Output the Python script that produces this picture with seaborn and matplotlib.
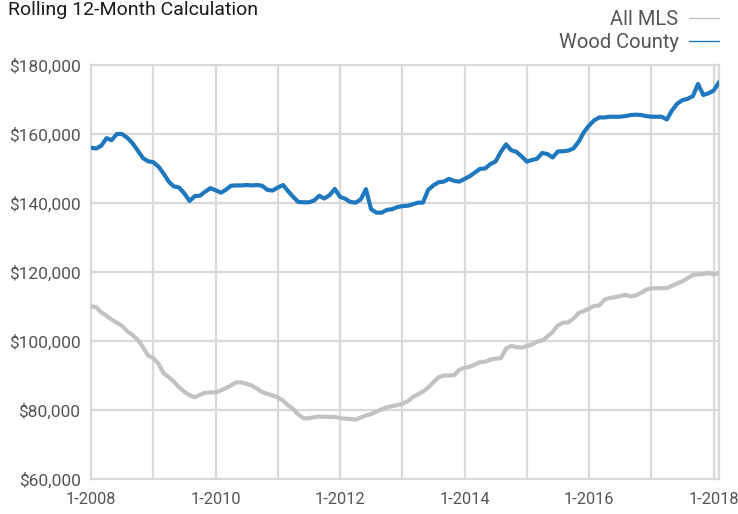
import pandas as pd
import matplotlib
matplotlib.use('Agg')
import matplotlib.pyplot as plt
import matplotlib.dates as mdates
import matplotlib.ticker as mticker
from matplotlib.lines import Line2D
import seaborn as sns

# monthly rolling 12-month values, in thousands of dollars (1-2008 .. 2-2018)
wood_county = [156.0, 155.8, 156.6, 158.8, 158.2, 160.0, 160.0, 158.9, 157.3, 155.2, 153.0, 152.1,
               151.8, 150.5, 148.6, 146.2, 144.8, 144.5, 142.8, 140.6, 142.0, 142.1, 143.3, 144.3,
               143.7, 143.0, 143.8, 145.0, 145.1, 145.1, 145.2, 145.1, 145.2, 145.0, 143.8, 143.6,
               144.5, 145.2, 143.5, 141.8, 140.3, 140.2, 140.2, 140.7, 142.1, 141.3, 142.3, 144.1,
               141.8, 141.2, 140.3, 140.1, 141.0, 144.0, 138.2, 137.2, 137.2, 138.0, 138.2, 138.8,
               139.1, 139.2, 139.6, 140.1, 140.1, 143.8, 145.1, 146.0, 146.2, 147.0, 146.4, 146.2,
               147.0, 147.8, 148.8, 149.9, 150.0, 151.3, 152.0, 154.8, 157.0, 155.3, 154.8, 153.5,
               152.0, 152.5, 152.8, 154.5, 154.2, 153.2, 154.9, 155.0, 155.2, 155.8, 157.8, 160.5,
               162.5, 164.0, 164.8, 164.8, 165.0, 165.0, 165.0, 165.2, 165.5, 165.6, 165.5, 165.2,
               165.0, 165.0, 165.0, 164.2, 166.8, 168.8, 169.8, 170.2, 171.0, 174.5, 171.3, 171.8,
               172.6, 175.0]
all_mls = [110.1, 109.8, 108.3, 107.3, 106.2, 105.3, 104.4, 102.8, 101.7, 100.3, 98.2, 95.8,
           95.0, 93.3, 90.7, 89.5, 88.2, 86.6, 85.3, 84.3, 83.7, 84.4, 85.0, 85.1,
           85.1, 85.7, 86.3, 87.1, 88.0, 88.0, 87.6, 87.1, 86.2, 85.2, 84.7, 84.2,
           83.7, 82.7, 81.4, 80.3, 78.7, 77.6, 77.6, 77.9, 78.1, 78.0, 78.0, 78.0,
           77.6, 77.5, 77.4, 77.2, 77.8, 78.4, 78.8, 79.5, 80.2, 80.8, 81.1, 81.4,
           81.8, 82.5, 83.7, 84.5, 85.3, 86.5, 88.0, 89.5, 90.0, 90.0, 90.1, 91.7,
           92.2, 92.6, 93.1, 93.9, 94.0, 94.6, 94.9, 95.0, 97.8, 98.6, 98.2, 98.1,
           98.5, 99.0, 99.8, 100.1, 101.3, 102.6, 104.5, 105.3, 105.4, 106.5, 108.1, 108.7,
           109.4, 110.2, 110.3, 112.0, 112.5, 112.7, 113.0, 113.4, 112.9, 113.2, 114.0, 114.9,
           115.3, 115.3, 115.3, 115.3, 116.0, 116.7, 117.3, 118.2, 119.2, 119.3, 119.4, 119.7,
           119.3, 119.7]
months = pd.date_range('2008-01-01', periods=len(wood_county), freq='MS')
series_names = ['All MLS', 'Wood County']
series_colors = ['#c2c2c2', '#1f78be']
y_ticks = [60000, 80000, 100000, 120000, 140000, 160000, 180000]

df = pd.concat([
    pd.DataFrame({'month': months, 'price': [v * 1000 for v in all_mls], 'series': 'All MLS'}),
    pd.DataFrame({'month': months, 'price': [v * 1000 for v in wood_county], 'series': 'Wood County'}),
])

sns.set_style('white')
plt.rcParams['font.family'] = ['Roboto', 'DejaVu Sans']

grid_c = '#d9d9d9'
fig = plt.figure(figsize=(7.38, 5.14), dpi=100)
ax = fig.add_axes([91 / 738, 1 - 479 / 514, (719 - 91) / 738, (479 - 65) / 514])

sns.lineplot(data=df, x='month', y='price', hue='series', hue_order=series_names,
             palette=series_colors, linewidth=3, legend=False, ax=ax, zorder=3)

ax.set_xlim(months[0], months[-1])
ax.set_ylim(60000, 180000)
ax.set_yticks(y_ticks)
ax.yaxis.set_major_formatter(mticker.FuncFormatter(lambda v, p: '${:,.0f}'.format(v)))
ax.xaxis.set_major_locator(mdates.YearLocator(1, month=1, day=1))
ax.xaxis.set_major_formatter(mticker.FuncFormatter(
    lambda v, p: '1-%d' % mdates.num2date(v).year if mdates.num2date(v).year % 2 == 0 else ''))
ax.grid(True, color=grid_c, linewidth=1.6)
ax.set_axisbelow(True)
for s in ax.spines.values():
    s.set_color(grid_c)
    s.set_linewidth(1.6)
ax.tick_params(axis='both', length=4.5, width=1.6, color=grid_c, labelcolor='#555555')
ax.tick_params(axis='y', pad=3, labelsize=12.5)
ax.tick_params(axis='x', pad=5, labelsize=11.8)
ax.set_xlabel('')
ax.set_ylabel('')

fig.text(8 / 738, 1 - 10 / 514, 'Rolling 12-Month Calculation', ha='left', va='center',
         fontsize=14, color='#1a1a1a')

handles = [Line2D([], [], color=c, linewidth=1) for c in series_colors]
leg = fig.legend(handles, series_names, loc='upper right', bbox_to_anchor=(737 / 738, 1.015),
                 frameon=False, markerfirst=False, fontsize=14.5, handlelength=1.5,
                 handletextpad=0.5, labelspacing=0.2)
for t in leg.get_texts():
    t.set_color('#555555')

fig.savefig('out.png', dpi=100)
